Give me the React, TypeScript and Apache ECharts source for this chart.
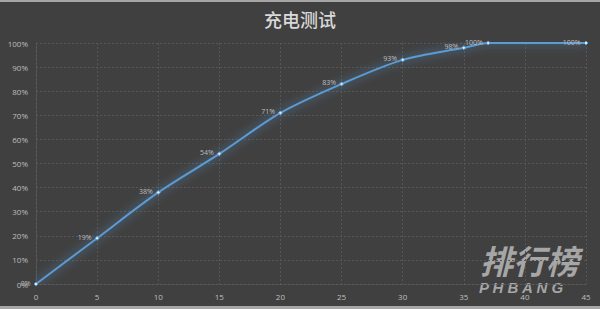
import React, { useEffect, useRef } from "react";
import * as echarts from "echarts";

const minutes = [0, 5, 10, 15, 20, 25, 30, 35, 37, 45];
const charge = [0, 19, 38, 54, 71, 83, 93, 98, 100, 100];
const xTicks = [0, 5, 10, 15, 20, 25, 30, 35, 40, 45];
const yTicks = [0, 10, 20, 30, 40, 50, 60, 70, 80, 90, 100];
const title = "充电测试";

export default function App() {
  const ref = useRef<HTMLDivElement>(null);
  useEffect(() => {
    if (!ref.current) return;
    const chart = echarts.init(ref.current, undefined, { renderer: "svg" });
    const gridLine = { show: true, lineStyle: { color: "#575757", type: [2, 2], width: 1 } };
    chart.setOption({
      animation: false,
      backgroundColor: "#404040",
      title: {
        text: title,
        left: "center",
        top: 5,
        textStyle: { color: "#d9d9d9", fontSize: 18, fontWeight: 500, fontFamily: "Noto Sans CJK SC" },
      },
      grid: { left: 36, right: 14, top: 43, bottom: 25 },
      xAxis: {
        type: "value",
        min: xTicks[0],
        max: xTicks[xTicks.length - 1],
        interval: 5,
        axisLine: { show: true, lineStyle: { color: "#5a5a5a", type: [2, 2] } },
        axisTick: { show: false },
        splitLine: gridLine,
        axisLabel: { color: "#bfbfbf", fontSize: 8, margin: 8, fontFamily: "Open Sans" },
      },
      yAxis: {
        type: "value",
        min: yTicks[0],
        max: yTicks[yTicks.length - 1],
        interval: 10,
        axisLine: { show: true, lineStyle: { color: "#5a5a5a", type: [2, 2] } },
        axisTick: { show: false },
        splitLine: gridLine,
        axisLabel: { color: "#bfbfbf", fontSize: 8, margin: 8, formatter: "{value}%", fontFamily: "Open Sans" },
      },
      series: [
        {
          type: "line",
          data: minutes.map((m, i) => [m, charge[i]]),
          smooth: 0.3,
          symbol: "diamond",
          symbolSize: 4,
          itemStyle: { color: "#dbe8f5", borderColor: "#5b9bd5", borderWidth: 1 },
          lineStyle: {
            color: "#5b9bd5",
            width: 2,
            shadowColor: "rgba(91,155,213,0.9)",
            shadowBlur: 10,
          },
          label: {
            show: true,
            position: "left",
            distance: 3,
            offset: [0, -1],
            color: "#bfbfbf",
            fontSize: 7,
            fontFamily: "Open Sans",
            formatter: (p: any) => p.value[1] + "%",
          },
        },
      ],
      graphic: [
        {
          type: "rect",
          left: 0,
          top: 0,
          shape: { width: 600, height: 2 },
          style: { fill: "#a6a6a6" },
        },
        {
          type: "rect",
          left: 0,
          top: 306,
          shape: { width: 600, height: 3 },
          style: { fill: "#a6a6a6" },
        },
        {
          type: "text",
          left: 480,
          top: 243,
          style: {
            text: "排行榜",
            fill: "rgba(200,200,200,0.75)",
            fontSize: 33,
            fontWeight: "bold",
            fontStyle: "italic",
            fontFamily: "Noto Sans CJK SC",
          },
        },
        {
          type: "text",
          left: 479,
          top: 280,
          style: {
            text: "P H B A N G",
            fill: "rgba(200,200,200,0.75)",
            fontSize: 15,
            fontWeight: "bold",
            fontStyle: "italic",
            fontFamily: "Liberation Sans",
          },
        },
      ],
    });
    return () => chart.dispose();
  }, []);
  return <div ref={ref} style={{ width: 600, height: 309, position: "absolute", left: 0, top: 0 }} />;
}
